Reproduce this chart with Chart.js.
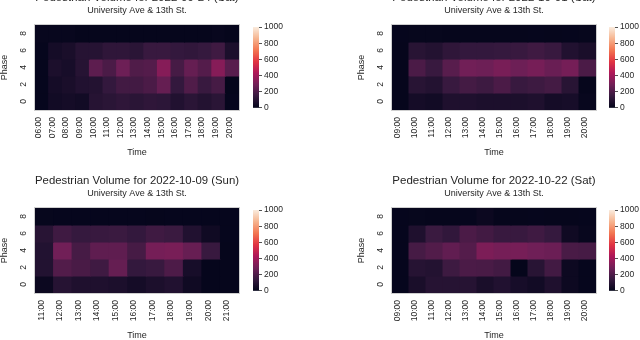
<!DOCTYPE html>
<html>
<head>
<meta charset="utf-8">
<script src="https://cdn.jsdelivr.net/npm/chart.js@4"></script>
<style>
  html, body { margin: 0; padding: 0; background: #fff; }
  body { position: relative; width: 640px; height: 340px; overflow: hidden; }
  canvas { position: absolute; }
</style>
</head>
<body>
<canvas id="h1" width="294" height="175" style="left:-10px;top:-13px"></canvas>
<canvas id="h2" width="294" height="175" style="left:347px;top:-13px"></canvas>
<canvas id="h3" width="294" height="175" style="left:-10px;top:170px"></canvas>
<canvas id="h4" width="294" height="175" style="left:347px;top:170px"></canvas>
<canvas id="c1" width="36" height="95" style="left:253px;top:20px"></canvas>
<canvas id="c2" width="36" height="95" style="left:609px;top:20px"></canvas>
<canvas id="c3" width="36" height="95" style="left:253px;top:203px"></canvas>
<canvas id="c4" width="36" height="95" style="left:609px;top:203px"></canvas>
<script>
// rows top to bottom
const PHASES = [8, 6, 4, 2, 0];
const PHASE_TICKS = [0, 2, 4, 6, 8];
const CBAR_TICKS = [0, 200, 400, 600, 800, 1000];
const SUBTITLE = 'University Ave & 13th St.';

const TIMES_0924 = ['06:00','07:00','08:00','09:00','10:00','11:00','12:00','13:00','14:00','15:00','16:00','17:00','18:00','19:00','20:00'];
const VOL_0924 = [
  [15, 15, 15, 8, 8, 8, 8, 8, 8, 8, 8, 8, 8, 15, 8],
  [10, 51, 65, 99, 99, 125, 125, 112, 150, 150, 138, 131, 144, 168, 72],
  [10, 72, 58, 99, 240, 197, 279, 208, 219, 338, 185, 260, 219, 338, 229],
  [10, 51, 65, 86, 92, 138, 174, 174, 197, 260, 138, 208, 150, 185, 5],
  [10, 44, 51, 44, 99, 112, 125, 112, 125, 118, 86, 112, 92, 112, 10]
];

const TIMES_1001 = ['09:00','10:00','11:00','12:00','13:00','14:00','15:00','16:00','17:00','18:00','19:00','20:00'];
const VOL_1001 = [
  [10, 12, 12, 8, 8, 8, 8, 8, 10, 8, 10, 12],
  [8, 105, 92, 125, 138, 138, 144, 150, 168, 150, 86, 65],
  [8, 197, 150, 229, 288, 279, 305, 279, 301, 270, 297, 197],
  [8, 105, 92, 150, 180, 162, 197, 150, 162, 180, 105, 8],
  [8, 51, 44, 79, 79, 72, 72, 72, 79, 51, 58, 15]
];

const TIMES_1009 = ['11:00','12:00','13:00','14:00','15:00','16:00','17:00','18:00','19:00','20:00','21:00'];
const VOL_1009 = [
  [12, 10, 10, 10, 10, 10, 8, 10, 10, 10, 10],
  [105, 168, 144, 150, 156, 138, 168, 156, 86, 37, 10],
  [90, 288, 185, 245, 245, 185, 297, 305, 265, 150, 8],
  [90, 213, 191, 168, 260, 138, 150, 202, 58, 8, 8],
  [25, 99, 79, 79, 72, 51, 72, 86, 37, 8, 8]
];

const TIMES_1022 = ['09:00','10:00','11:00','12:00','13:00','14:00','15:00','16:00','17:00','18:00','19:00','20:00'];
const VOL_1022 = [
  [10, 12, 8, 8, 10, 25, 8, 8, 10, 8, 8, 10],
  [10, 79, 156, 131, 197, 174, 150, 150, 168, 144, 37, 15],
  [10, 185, 213, 250, 219, 314, 297, 301, 284, 274, 191, 185],
  [10, 99, 92, 162, 197, 191, 174, 5, 105, 174, 29, 10],
  [10, 65, 99, 99, 99, 65, 86, 58, 44, 79, 29, 10]
];

const FONT = '"Liberation Sans", Arial, sans-serif';
const TEXT = '#262626';

// seaborn "rocket" colormap, a few stops
const ROCKET = [
  [0.0, [3, 5, 26]],
  [0.143, [53, 25, 62]],
  [0.286, [112, 31, 87]],
  [0.429, [173, 23, 89]],
  [0.571, [225, 51, 66]],
  [0.714, [243, 118, 81]],
  [0.857, [246, 180, 143]],
  [1.0, [250, 235, 221]]
];

function rocket(t) {
  t = Math.max(0, Math.min(1, t));
  for (let i = 1; i < ROCKET.length; i++) {
    const [t1, c1] = ROCKET[i];
    const [t0, c0] = ROCKET[i - 1];
    if (t <= t1) {
      const f = (t - t0) / (t1 - t0);
      const c = c0.map((v, k) => Math.round(v + (c1[k] - v) * f));
      return `rgb(${c[0]},${c[1]},${c[2]})`;
    }
  }
  return 'rgb(250,235,221)';
}

const frame = {
  id: 'frame',
  afterDatasetsDraw(chart) {
    const a = chart.chartArea, ctx = chart.ctx;
    ctx.save();
    ctx.strokeStyle = '#cfcfcf';
    ctx.lineWidth = 1;
    ctx.strokeRect(a.left - 0.5, a.top - 0.5, a.right - a.left + 1, a.bottom - a.top + 1);
    ctx.restore();
  }
};

function heatmap(id, date, times, vol) {
  new Chart(document.getElementById(id), {
    type: 'bar',
    data: {
      labels: times,
      datasets: PHASES.map((p, r) => ({
        data: times.map(() => [p - 1, p + 1]),
        backgroundColor: vol[r].map(v => rocket(v / 1000)),
        borderWidth: 0,
        inflateAmount: 0.5,
        grouped: false,
        barPercentage: 1,
        categoryPercentage: 1
      }))
    },
    options: {
      responsive: false,
      animation: false,
      layout: { padding: { left: 0, right: 45, top: 0, bottom: 0 } },
      plugins: {
        legend: { display: false },
        tooltip: { enabled: false },
        title: {
          display: true, text: 'Pedestrian Volume for ' + date, fullSize: false,
          color: TEXT, font: { family: FONT, size: 11.5, weight: 'normal' },
          padding: { top: 4.1, bottom: 0.7 }
        },
        subtitle: {
          display: true, text: SUBTITLE, fullSize: false,
          color: TEXT, font: { family: FONT, size: 9, weight: 'normal' },
          padding: { top: 0, bottom: 8.6 }
        }
      },
      scales: {
        x: {
          type: 'category',
          offset: true,
          grid: { display: false, drawTicks: false },
          border: { display: false },
          ticks: {
            color: TEXT, font: { family: FONT, size: 8.5 },
            minRotation: 90, maxRotation: 90, autoSkip: false,
            padding: 7, labelOffset: -3
          },
          title: {
            display: true, text: 'Time', color: TEXT,
            font: { family: FONT, size: 9 }, padding: { top: 0, bottom: 3.6 }
          },
          afterFit: s => { s.height = 52; }
        },
        y: {
          type: 'linear', min: -1, max: 9,
          grid: { display: false, drawTicks: false },
          border: { display: false },
          afterBuildTicks: s => { s.ticks = PHASE_TICKS.map(v => ({ value: v })); },
          ticks: {
            color: TEXT, font: { family: FONT, size: 8.5 },
            minRotation: 90, maxRotation: 90, padding: 11, labelOffset: -2.4
          },
          title: {
            display: true, text: 'Phase', color: TEXT,
            font: { family: FONT, size: 9 }, padding: { top: 9.6, bottom: 0 }
          },
          afterFit: s => { s.width = 45; }
        }
      }
    },
    plugins: [frame]
  });
}

function cbarFill(ctx) {
  const area = ctx.chart.chartArea;
  if (!area) return rocket(0);
  const g = ctx.chart.ctx.createLinearGradient(0, area.bottom, 0, area.top);
  for (let i = 0; i <= 50; i++) g.addColorStop(i / 50, rocket(i / 50));
  return g;
}

function colorbar(id) {
  new Chart(document.getElementById(id), {
    type: 'bar',
    data: {
      labels: [''],
      datasets: [{ data: [1000], backgroundColor: cbarFill, borderWidth: 0, barPercentage: 1, categoryPercentage: 1 }]
    },
    options: {
      responsive: false,
      animation: false,
      layout: { padding: { top: 5, bottom: 5, left: 0, right: 0 } },
      plugins: { legend: { display: false }, tooltip: { enabled: false } },
      scales: {
        x: { display: false },
        y: {
          position: 'right', min: 0, max: 1000,
          afterBuildTicks: s => { s.ticks = CBAR_TICKS.map(v => ({ value: v })); },
          grid: { display: true, drawOnChartArea: false, drawTicks: true, tickLength: 3, color: TEXT, lineWidth: 0.8 },
          border: { display: false },
          ticks: { color: TEXT, font: { family: FONT, size: 8.5 }, padding: 2, callback: v => String(v) },
          afterFit: s => { s.width = 30; }
        }
      }
    }
  });
}

heatmap('h1', '2022-09-24 (Sat)', TIMES_0924, VOL_0924);
heatmap('h2', '2022-10-01 (Sat)', TIMES_1001, VOL_1001);
heatmap('h3', '2022-10-09 (Sun)', TIMES_1009, VOL_1009);
heatmap('h4', '2022-10-22 (Sat)', TIMES_1022, VOL_1022);
['c1', 'c2', 'c3', 'c4'].forEach(colorbar);
</script>
</body>
</html>
